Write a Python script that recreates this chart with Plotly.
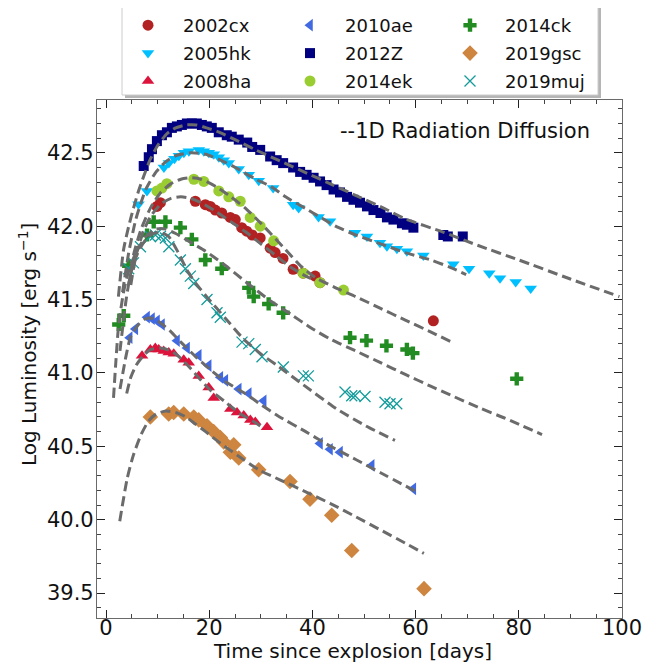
import plotly.graph_objects as go

# ---------------- observed data (days since explosion, log L) ----------------
sn2002cx_t = [9.86, 10.54, 17.31, 19.24, 20.21, 21.18, 22.43, 24.08, 25.05, 26.3, 27.27, 28.33, 29.88, 31.81, 32.78, 34.3, 36.26, 38.2, 40.52, 41.48, 63.44]
sn2002cx_L = [42.135, 42.16, 42.17, 42.147, 42.135, 42.11, 42.09, 42.06, 42.045, 41.99, 41.966, 41.94, 41.92, 41.85, 41.82, 41.78, 41.706, 41.68, 41.66, 41.615, 41.355]

sn2005hk_t = [6.29, 7.93, 11.22, 12.18, 13.25, 14.12, 15.09, 16.05, 17.99, 18.95, 19.92, 20.89, 21.86, 22.82, 23.79, 25.72, 27.66, 29.59, 32.39,
              36.26, 37.33, 41.19, 43.42, 48.25, 50.57, 53.09, 54.44, 56.38, 58.31, 61.5, 67.3, 70.35, 74.28, 76.36, 79.4, 82.3]
sn2005hk_L = [42.15, 42.24, 42.40, 42.43, 42.46, 42.48, 42.50, 42.51, 42.52, 42.51, 42.50, 42.49, 42.47, 42.45, 42.43, 42.39, 42.35, 42.31, 42.26,
              42.147, 42.124, 42.063, 42.033, 41.955, 41.93, 41.887, 41.864, 41.846, 41.83, 41.80, 41.74, 41.71, 41.68, 41.645, 41.62, 41.575]

sn2008ha_t = [6.98, 8.59, 9.55, 10.21, 11.18, 12.15, 13.12, 15.06, 16.03, 17.97, 19.9, 20.87, 24.09, 25.39, 26.69, 27.97, 28.93, 31.2]
sn2008ha_L = [41.117, 41.16, 41.17, 41.16, 41.15, 41.14, 41.13, 41.09, 41.07, 40.98, 40.90, 40.83, 40.755, 40.73, 40.71, 40.68, 40.665, 40.63]

sn2010ae_t = [4.59, 5.68, 7.95, 8.91, 9.88, 10.85, 13.76, 15.7, 17.97, 19.9, 22.15, 23.12, 25.72, 27.66, 30.56, 41.47, 43.41, 45.35, 51.49, 59.55]
sn2010ae_L = [41.24, 41.30, 41.38, 41.37, 41.355, 41.33, 41.22, 41.17, 41.12, 41.05, 40.97, 40.95, 40.89, 40.86, 40.81, 40.52, 40.48, 40.46, 40.37, 40.21]

sn2012Z_t = [7.3, 8.28, 8.9, 9.86, 10.83, 11.8, 12.76, 13.73, 14.7, 15.67, 16.63, 17.6, 18.57, 19.53, 20.5, 21.85, 23.4, 24.37, 25.72, 27.37, 28.33, 29.88, 31.81,
             33.07, 34.33, 36.26, 37.62, 38.87, 40.23, 41.48, 42.74, 44.1, 45.35, 46.71, 47.96, 49.22, 50.57, 51.83, 53.19, 54.44, 55.7, 57.34, 58.31, 59.57,
             65.37, 66.24, 69.14]
sn2012Z_L = [42.41, 42.47, 42.525, 42.58, 42.62, 42.64, 42.67, 42.68, 42.69, 42.70, 42.70, 42.70, 42.69, 42.68, 42.67, 42.64, 42.62, 42.61, 42.59, 42.57, 42.54, 42.52, 42.475,
             42.45, 42.43, 42.40, 42.37, 42.35, 42.33, 42.305, 42.28, 42.25, 42.23, 42.20, 42.18, 42.16, 42.135, 42.11, 42.09, 42.06, 42.045, 42.02, 42.01, 41.99,
             41.94, 41.93, 41.93]

sn2014ek_t = [9.86, 10.83, 11.8, 17.02, 18.95, 21.85, 23.79, 26.01, 27.95, 29.88, 32.49, 38.2, 41.48, 46.03]
sn2014ek_L = [42.24, 42.26, 42.29, 42.32, 42.305, 42.24, 42.20, 42.17, 42.06, 42.0, 41.90, 41.68, 41.615, 41.565]

sn2014ck_t = [2.46, 3.43, 4.39, 7.95, 9.24, 11.51, 14.41, 16.63, 19.24, 22.43, 27.66, 28.62, 31.52, 34.33, 47.29, 50.48, 54.35, 58.31, 59.47, 79.6]
sn2014ck_L = [41.33, 41.39, 41.73, 41.94, 42.03, 42.03, 41.99, 41.91, 41.77, 41.71, 41.58, 41.52, 41.47, 41.41, 41.24, 41.22, 41.185, 41.16, 41.135, 40.96]

sn2019gsc_t = [8.59, 12.15, 13.12, 15.06, 17.0, 17.97, 19.57, 20.87, 22.15, 22.81, 24.09, 24.75, 25.72, 29.59, 35.66, 39.53, 43.74, 47.62, 61.63]
sn2019gsc_L = [40.70, 40.72, 40.73, 40.72, 40.70, 40.68, 40.64, 40.60, 40.56, 40.53, 40.46, 40.51, 40.42, 40.34, 40.26, 40.14, 40.03, 39.79, 39.53]

sn2019muj_t = [4.39, 5.32, 6.67, 8.61, 9.57, 10.54, 11.51, 12.18, 14.41, 15.38, 16.34, 17.0, 19.57, 21.51, 22.15, 26.36, 27.66, 28.93, 30.23,
               34.36, 38.24, 39.21, 46.32, 47.62, 48.26, 50.19, 54.07, 55.04, 56.34]
sn2019muj_L = [41.71, 41.75, 41.86, 41.93, 41.94, 41.93, 41.92, 41.86, 41.77, 41.71, 41.66, 41.61, 41.50, 41.41, 41.38, 41.21, 41.20, 41.16, 41.11,
               41.04, 40.98, 40.98, 40.87, 40.845, 40.845, 40.84, 40.80, 40.79, 40.79]

# ---------------- 1D radiation diffusion model curves ----------------
mod2012Z_t = [2.4, 3.4, 4.4, 5.3, 6.3, 7.3, 8.5, 10, 11.8, 13.5, 15.5, 17.5, 19.5, 22, 25, 29, 34, 39, 44, 49, 54, 58, 65.3, 72, 80, 90, 99.5]
mod2012Z_L = [41.52, 41.84, 42.0, 42.12, 42.24, 42.34, 42.45, 42.55, 42.63, 42.67, 42.69, 42.69, 42.67, 42.64, 42.59, 42.52, 42.44, 42.36, 42.28, 42.2, 42.12, 42.05, 41.96, 41.87, 41.77, 41.64, 41.52]

mod2005hk_t = [3.2, 4.4, 5.8, 7.7, 9.7, 11.6, 13.5, 16.4, 19.3, 22.2, 25.1, 29, 32, 34.8, 38.7, 41.6, 44.5, 48.4, 53.2, 58, 62.9, 66.7, 69.8]
mod2005hk_L = [41.55, 41.82, 42.05, 42.25, 42.37, 42.44, 42.48, 42.5, 42.49, 42.45, 42.4, 42.32, 42.27, 42.2, 42.12, 42.06, 42.0, 41.94, 41.88, 41.82, 41.77, 41.72, 41.67]

mod2014ek_t = [4.4, 5.3, 6.8, 8.7, 10.6, 12.6, 14.5, 16.4, 18.4, 21.3, 24.2, 27.1, 30, 31.9, 34.8, 37.7, 40.6, 44.5, 48.4, 53.2, 58, 62.9, 67]
mod2014ek_L = [41.6, 41.8, 41.98, 42.13, 42.23, 42.29, 42.32, 42.33, 42.32, 42.27, 42.2, 42.12, 42.02, 41.95, 41.84, 41.73, 41.65, 41.58, 41.52, 41.44, 41.36, 41.28, 41.21]

mod2002cx_t = [4.8, 5.8, 7.3, 8.7, 10.6, 12.6, 14.5, 16.4, 18.4, 21.3, 24.2, 27.1, 30, 32.9, 35.8, 38.7, 40.6]
mod2002cx_L = [41.6, 41.8, 41.97, 42.07, 42.15, 42.19, 42.2, 42.19, 42.16, 42.1, 42.03, 41.96, 41.88, 41.8, 41.72, 41.66, 41.63]

mod2014ck_t = [1.45, 1.95, 2.45, 3.4, 4.4, 5.8, 7.7, 9.7, 11.6, 13.5, 16.4, 19.3, 23.2, 27.1, 31.9, 35.8, 39.6, 43.5, 48.4, 53.2, 58, 62.9, 66.7, 72.5, 77.4, 84.5]
mod2014ck_L = [40.83, 41.1, 41.33, 41.55, 41.7, 41.82, 41.93, 41.98, 41.98, 41.95, 41.89, 41.83, 41.73, 41.62, 41.49, 41.4, 41.31, 41.23, 41.15, 41.07, 40.99, 40.91, 40.85, 40.76, 40.69, 40.58]

mod2019muj_t = [2.7, 3.9, 4.8, 6.3, 8.2, 10.2, 12.1, 14, 15.7, 17.4, 19.5, 23.2, 26.7, 30, 33.2, 38.2, 44.7, 50.3, 56]
mod2019muj_L = [41.15, 41.5, 41.68, 41.83, 41.93, 41.96, 41.93, 41.82, 41.7, 41.61, 41.52, 41.37, 41.23, 41.13, 41.05, 40.92, 40.755, 40.64, 40.54]

mod2010ae_t = [2.71, 3.9, 4.8, 6.3, 7.7, 9.2, 10.6, 12.6, 14.5, 17.4, 20.3, 23.2, 27.4, 30.2, 33.2, 38.7, 43.5, 48.4, 53.2, 60.2]
mod2010ae_L = [40.89, 41.12, 41.25, 41.33, 41.37, 41.37, 41.34, 41.28, 41.21, 41.11, 41.02, 40.94, 40.85, 40.78, 40.71, 40.6, 40.5, 40.41, 40.32, 40.19]

mod2008ha_t = [4.0, 4.8, 5.8, 7.3, 8.7, 10.6, 12.6, 14.5, 16.4, 18.4, 20.3, 23.2, 26.1, 29, 30.6]
mod2008ha_L = [40.86, 40.97, 41.05, 41.12, 41.16, 41.17, 41.15, 41.1, 41.03, 40.95, 40.88, 40.8, 40.72, 40.66, 40.62]

mod2019gsc_t = [2.66, 4.1, 5.3, 6.8, 8.2, 9.7, 11.6, 13.5, 15.5, 17.4, 19.3, 22.2, 25.4, 29.6, 33.8, 38.7, 43.5, 48.4, 53.2, 58, 61.6]
mod2019gsc_L = [39.99, 40.28, 40.44, 40.58, 40.67, 40.72, 40.74, 40.73, 40.7, 40.65, 40.6, 40.52, 40.44, 40.34, 40.27, 40.19, 40.11, 40.02, 39.93, 39.84, 39.77]

x_ticks = [0, 20, 40, 60, 80, 100]
y_ticks = [39.5, 40.0, 40.5, 41.0, 41.5, 42.0, 42.5]
y_ticklabels = ["39.5", "40.0", "40.5", "41.0", "41.5", "42.0", "42.5"]

# ---------------- layout geometry (page pixels; page has an 8px body margin) ----------------
BODY = 8
FIG_W, FIG_H = 658 - BODY, 662 - BODY
PL, PR, PT, PB = 97, 622, 100, 618          # plot-area edges in page pixels
PW, PH = PR - PL, PB - PT


def px(x):
    return (x - PL) / PW


def py(y):
    return (PB - y) / PH


FONT = "DejaVu Sans, Verdana, sans-serif"
fig = go.Figure()

series = [
    # name, t, L, symbol, color, size, legend column
    ("2002cx", sn2002cx_t, sn2002cx_L, "circle", "#B22222", 11, "legend"),
    ("2005hk", sn2005hk_t, sn2005hk_L, "triangle-down", "#00BFFF", 11, "legend"),
    ("2008ha", sn2008ha_t, sn2008ha_L, "triangle-up", "#DC143C", 11, "legend"),
    ("2010ae", sn2010ae_t, sn2010ae_L, "triangle-left", "#4169E1", 11, "legend2"),
    ("2012Z", sn2012Z_t, sn2012Z_L, "square", "#000080", 10, "legend2"),
    ("2014ek", sn2014ek_t, sn2014ek_L, "circle", "#9ACD32", 11, "legend2"),
    ("2014ck", sn2014ck_t, sn2014ck_L, "cross", "#228B22", 11, "legend3"),
    ("2019gsc", sn2019gsc_t, sn2019gsc_L, "diamond", "#CD853F", 12, "legend3"),
    ("2019muj", sn2019muj_t, sn2019muj_L, "x-thin", "#139B9B", 11, "legend3"),
]

for i, (name, t, L, sym, col, size, leg) in enumerate(series):
    marker = dict(symbol=sym, color=col, size=size, line=dict(width=0))
    if sym == "x-thin":
        marker = dict(symbol=sym, color=col, size=size, line=dict(width=1.3, color=col))
    fig.add_trace(go.Scatter(x=t, y=L, mode="markers", name=name, marker=marker,
                             legend=leg, legendgroup=name, legendrank=i + 1, showlegend=True))

models = [
    (mod2012Z_t, mod2012Z_L), (mod2005hk_t, mod2005hk_L), (mod2014ek_t, mod2014ek_L),
    (mod2002cx_t, mod2002cx_L), (mod2014ck_t, mod2014ck_L), (mod2019muj_t, mod2019muj_L),
    (mod2010ae_t, mod2010ae_L), (mod2008ha_t, mod2008ha_L), (mod2019gsc_t, mod2019gsc_L),
]
for t, L in models:
    fig.add_trace(go.Scatter(x=t, y=L, mode="lines", showlegend=False, hoverinfo="skip",
                             line=dict(color="#6b6b6b", width=3, dash="10px,5px", shape="spline", smoothing=0.6)))

axis_common = dict(
    showgrid=False, zeroline=False, showline=True, linecolor="#6a6a6a", linewidth=1.2,
    mirror="allticks", ticks="inside", ticklen=8, tickwidth=1.2, tickcolor="#222",
    tickfont=dict(family=FONT, size=21, color="#111"), automargin=False,
)
fig.update_xaxes(range=[-1.75, 100], tickvals=x_ticks, ticklabelstandoff=-9,
                 minor=dict(dtick=5, ticks="inside", ticklen=4, tickcolor="#444", tickwidth=1),
                 **axis_common)
fig.update_yaxes(range=[39.33, 42.86], tickvals=y_ticks, ticktext=y_ticklabels, ticklabelstandoff=-2,
                 minor=dict(dtick=0.1, ticks="inside", ticklen=4, tickcolor="#444", tickwidth=1),
                 **axis_common)

# legend frame (with matplotlib-like shadow)
fig.add_shape(type="rect", xref="paper", yref="paper",
              x0=px(125), x1=px(601), y0=py(98), y1=py(7),
              fillcolor="#b5b5b5", line=dict(width=0), layer="above")
fig.add_shape(type="rect", xref="paper", yref="paper",
              x0=px(122), x1=px(598), y0=py(95), y1=py(4),
              fillcolor="white", line=dict(width=1, color="#cccccc"), layer="above")

leg_common = dict(orientation="v", yanchor="top", y=py(7), xanchor="left",
                  itemwidth=60, font=dict(family=FONT, size=18, color="#111"),
                  bgcolor="rgba(0,0,0,0)", borderwidth=0, traceorder="grouped", tracegroupgap=1.5)

fig.update_layout(
    width=FIG_W, height=FIG_H,
    margin=dict(l=PL - BODY, r=658 - PR, t=PT - BODY, b=662 - PB, autoexpand=False),
    paper_bgcolor="white", plot_bgcolor="white",
    font=dict(family=FONT, size=18, color="#111"),
    legend=dict(x=px(113), **leg_common),
    legend2=dict(x=px(275), **leg_common),
    legend3=dict(x=px(435), **leg_common),
    annotations=[
        dict(text="--1D Radiation Diffusion", xref="paper", yref="paper",
             x=px(338), y=py(131), xanchor="left", yanchor="middle",
             showarrow=False, font=dict(family=FONT, size=21, color="#111")),
        dict(text="Time since explosion [days]", xref="paper", yref="paper",
             x=px(352), y=py(651), xanchor="center", yanchor="middle",
             showarrow=False, font=dict(family=FONT, size=20, color="#111")),
        dict(text="Log Luminosity [erg s<sup>−1</sup>]", xref="paper", yref="paper",
             x=px(28), y=py(345), xanchor="center", yanchor="middle",
             textangle=-90, showarrow=False, font=dict(family=FONT, size=20, color="#111")),
    ],
)

fig.write_html("out.html")
